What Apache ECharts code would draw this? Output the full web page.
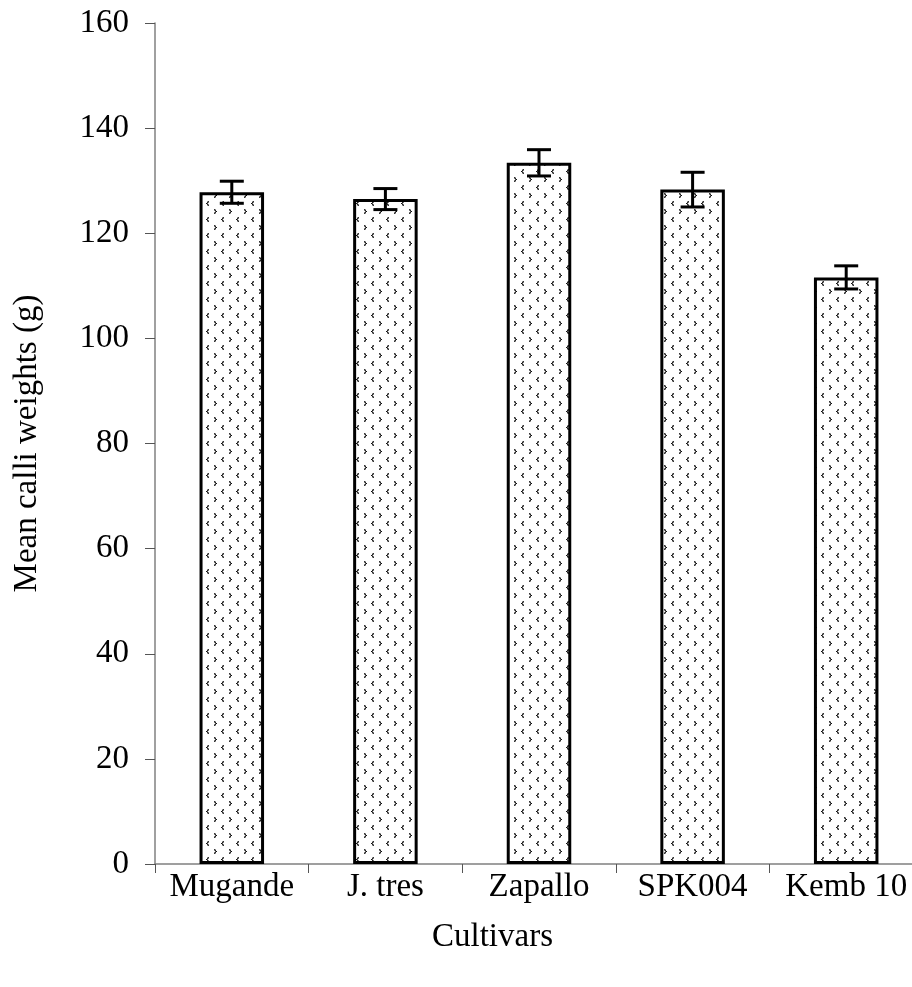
<!DOCTYPE html>
<html><head><meta charset="utf-8">
<style>html,body{margin:0;padding:0;background:#fff;overflow:hidden}#c{width:923px;height:987px}</style>
<script src="https://cdn.jsdelivr.net/npm/echarts@6/dist/echarts.min.js"></script>
</head><body><div id="c"></div>
<script>
var categories = ['Mugande', 'J. tres', 'Zapallo', 'SPK004', 'Kemb 10'];
var means = [127.8, 126.5, 133.4, 128.3, 111.6];
var errors = [2.1, 2.0, 2.5, 3.3, 2.2];
var yTicks = {min: 0, max: 160, interval: 20};

function makeTile() {
  var c = document.createElement('canvas');
  c.width = 15; c.height = 16;
  var g = c.getContext('2d');
  g.fillStyle = '#fff'; g.fillRect(0, 0, 15, 16);
  function px(x, y, col) { g.fillStyle = col; g.fillRect(x, y, 1, 1); }
  function gt(x, y) {
    px(x, y, '#333'); px(x + 1, y + 1, '#222'); px(x + 2, y + 2, '#111');
    px(x + 1, y + 3, '#222'); px(x, y + 4, '#333');
    px(x, y + 1, '#777'); px(x, y + 3, '#777'); px(x + 1, y + 2, '#666'); px(x + 1, y, '#999'); px(x + 1, y + 4, '#999');
  }
  function lt(x, y) {
    px(x + 2, y, '#333'); px(x + 1, y + 1, '#222'); px(x, y + 2, '#111');
    px(x + 1, y + 3, '#222'); px(x + 2, y + 4, '#333');
    px(x + 2, y + 1, '#777'); px(x + 2, y + 3, '#777'); px(x + 1, y + 2, '#666'); px(x + 1, y, '#999'); px(x + 1, y + 4, '#999');
  }
  gt(4, 1);
  lt(11, 9);
  return c;
}

var chart = echarts.init(document.getElementById('c'), null, {renderer: 'canvas'});
var font = '"Liberation Serif", "Times New Roman", serif';
var fs = 33;
chart.setOption({
  animation: false,
  grid: {left: 155, top: 23, bottom: 123, right: 0, containLabel: false},
  xAxis: {
    type: 'category', data: categories, boundaryGap: true,
    axisLine: {lineStyle: {color: '#808080', width: 1.5}},
    axisTick: {show: true, interval: 0, length: 9, lineStyle: {color: '#555', width: 1}},
    axisLabel: {interval: 0, color: '#000', fontFamily: font, fontSize: fs, margin: 7, hideOverlap: false}
  },
  yAxis: {
    type: 'value', min: yTicks.min, max: yTicks.max, interval: yTicks.interval,
    axisLine: {show: true, lineStyle: {color: '#808080', width: 1.5}},
    axisTick: {show: true, length: 10, lineStyle: {color: '#555', width: 1}},
    splitLine: {show: false},
    axisLabel: {color: '#000', fontFamily: font, fontSize: fs, margin: 26},
    name: 'Mean calli weights (g)', nameLocation: 'middle', nameGap: 111,
    nameTextStyle: {color: '#000', fontFamily: font, fontSize: fs}
  },
  graphic: [{
    type: 'text', left: 432, top: 921,
    style: {text: 'Cultivars', fill: '#000', font: fs + 'px ' + font}
  }],
  series: [{
    type: 'bar', data: means, barWidth: '42%',
    itemStyle: {color: {image: makeTile(), repeat: 'repeat'}, borderColor: '#000', borderWidth: 3}
  }, {
    type: 'custom',
    data: means.map(function (m, i) { return [i, m - errors[i], m + errors[i]]; }),
    renderItem: function (params, api) {
      var lo = api.coord([api.value(0), api.value(1)]);
      var hi = api.coord([api.value(0), api.value(2)]);
      var hw = 12;
      var st = {stroke: '#000', lineWidth: 3};
      return {type: 'group', children: [
        {type: 'line', shape: {x1: hi[0], y1: hi[1], x2: lo[0], y2: lo[1]}, style: st},
        {type: 'line', shape: {x1: hi[0] - hw, y1: hi[1], x2: hi[0] + hw, y2: hi[1]}, style: st},
        {type: 'line', shape: {x1: lo[0] - hw, y1: lo[1], x2: lo[0] + hw, y2: lo[1]}, style: st}
      ]};
    },
    z: 10
  }]
});
</script></body></html>
